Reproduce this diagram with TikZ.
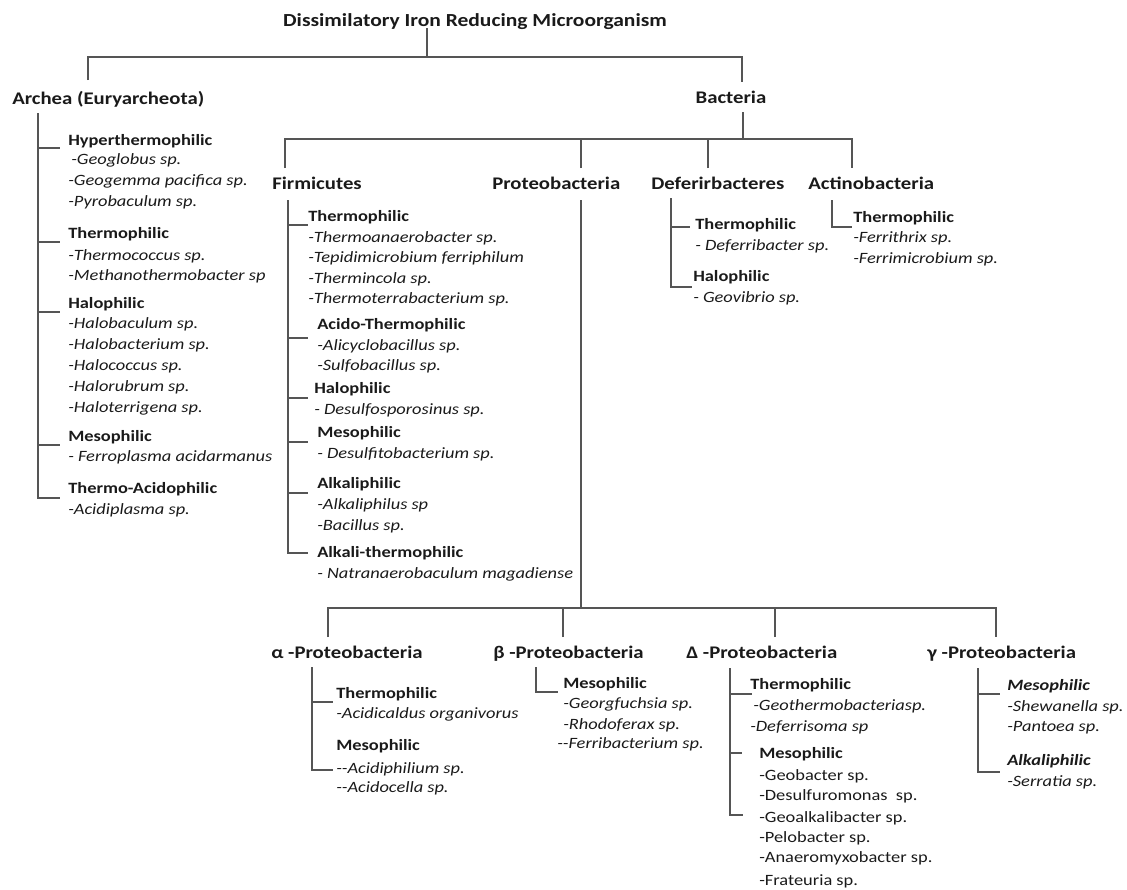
\documentclass[tikz,border=0pt]{standalone}
\usepackage{fontspec}
\setmainfont{Carlito}[FakeStretch=1.17]
\definecolor{txt}{HTML}{1A1A1A}
\definecolor{ln}{HTML}{555555}
\begin{document}
\begin{tikzpicture}[x=0.75pt,y=-0.75pt,
  hdr/.style={font=\fontsize{13.3}{15}\selectfont\bfseries,inner sep=0,anchor=base,text=txt},
  hdrw/.style={hdr,anchor=base west},
  sub/.style={font=\fontsize{11.8}{13}\selectfont\bfseries,inner sep=0,anchor=base west,text=txt},
  subi/.style={font=\fontsize{11.8}{13}\selectfont\bfseries\itshape,inner sep=0,anchor=base west,text=txt},
  spec/.style={font=\fontsize{11.8}{13}\selectfont\itshape,inner sep=0,anchor=base west,text=txt},
  specu/.style={font=\fontsize{11.8}{13}\selectfont,inner sep=0,anchor=base west,text=txt},
  tree/.style={draw=ln,line width=1.1pt}]
\useasboundingbox (0,0) rectangle (1127,889);

% ---------- headers ----------
\node[hdr,font=\fontsize{13.8}{15}\selectfont\bfseries] (root) at (475,26) {Dissimilatory Iron Reducing Microorganism};
\node[hdrw] (arch) at (12,104) {Archea (Euryarcheota)};
\node[hdr] (bact) at (731,103) {Bacteria};
\node[hdrw] (firm) at (272,189) {Firmicutes};
\node[hdrw] (prot) at (492,189) {Proteobacteria};
\node[hdrw] (defe) at (651,189) {Deferirbacteres};
\node[hdrw] (acti) at (808,189) {Actinobacteria};
\node[hdrw] (alph) at (271,658) {α -Proteobacteria};
\node[hdrw] (beta) at (493,658) {β -Proteobacteria};
\node[hdrw] (delt) at (686,658) {Δ -Proteobacteria};
\node[hdrw] (gamm) at (927,658) {γ -Proteobacteria};

% ---------- Archea ----------
\node[sub]  (a1) at (68,145) {Hyperthermophilic};
\node[spec] (a1a) at (71,164) {-Geoglobus sp.};
\node[spec] (a1b) at (68,185) {-Geogemma pacifica sp.};
\node[spec] (a1c) at (68,206) {-Pyrobaculum sp.};
\node[sub]  (a2) at (68,238) {Thermophilic};
\node[spec] (a2a) at (68,260) {-Thermococcus sp.};
\node[spec] (a2b) at (68,280) {-Methanothermobacter sp};
\node[sub]  (a3) at (68,308) {Halophilic};
\node[spec] (a3a) at (68,328) {-Halobaculum sp.};
\node[spec] (a3b) at (68,349) {-Halobacterium sp.};
\node[spec] (a3c) at (68,370) {-Halococcus sp.};
\node[spec] (a3d) at (68,391) {-Halorubrum sp.};
\node[spec] (a3e) at (68,412) {-Haloterrigena sp.};
\node[sub]  (a4) at (68,441) {Mesophilic};
\node[spec] (a4a) at (68,461) {- Ferroplasma acidarmanus};
\node[sub]  (a5) at (68,493) {Thermo-Acidophilic};
\node[spec] (a5a) at (68,514) {-Acidiplasma sp.};

% ---------- Firmicutes ----------
\node[sub]  (f1) at (308,221) {Thermophilic};
\node[spec] (f1a) at (308,242) {-Thermoanaerobacter sp.};
\node[spec] (f1b) at (308,262) {-Tepidimicrobium ferriphilum};
\node[spec] (f1c) at (308,283) {-Thermincola sp.};
\node[spec] (f1d) at (308,303) {-Thermoterrabacterium sp.};
\node[sub]  (f2) at (317,329) {Acido-Thermophilic};
\node[spec] (f2a) at (317,350) {-Alicyclobacillus sp.};
\node[spec] (f2b) at (317,370) {-Sulfobacillus sp.};
\node[sub]  (f3) at (314,393) {Halophilic};
\node[spec] (f3a) at (314,414) {- Desulfosporosinus sp.};
\node[sub]  (f4) at (317,437) {Mesophilic};
\node[spec] (f4a) at (317,458) {- Desulfitobacterium sp.};
\node[sub]  (f5) at (317,488) {Alkaliphilic};
\node[spec] (f5a) at (317,509) {-Alkaliphilus sp};
\node[spec] (f5b) at (317,530) {-Bacillus sp.};
\node[sub]  (f6) at (317,557) {Alkali-thermophilic};
\node[spec] (f6a) at (317,578) {- Natranaerobaculum magadiense};

% ---------- Deferirbacteres ----------
\node[sub]  (d1) at (695,229) {Thermophilic};
\node[spec] (d1a) at (695,250) {- Deferribacter sp.};
\node[sub]  (d2) at (693,281) {Halophilic};
\node[spec] (d2a) at (693,302) {- Geovibrio sp.};

% ---------- Actinobacteria ----------
\node[sub]  (c1) at (853,222) {Thermophilic};
\node[spec] (c1a) at (853,242) {-Ferrithrix sp.};
\node[spec] (c1b) at (853,263) {-Ferrimicrobium sp.};

% ---------- alpha ----------
\node[sub]  (al1) at (336,698) {Thermophilic};
\node[spec] (al1a) at (336,718) {-Acidicaldus organivorus};
\node[sub]  (al2) at (336,750) {Mesophilic};
\node[spec] (al2a) at (336,773) {-{}-Acidiphilium sp.};
\node[spec] (al2b) at (336,792) {-{}-Acidocella sp.};

% ---------- beta ----------
\node[sub]  (be1) at (563,688) {Mesophilic};
\node[spec] (be1a) at (563,708) {-Georgfuchsia sp.};
\node[spec] (be1b) at (563,729) {-Rhodoferax sp.};
\node[spec] (be1c) at (557,748) {-{}-Ferribacterium sp.};

% ---------- delta ----------
\node[sub]  (de1) at (750,689) {Thermophilic};
\node[spec] (de1a) at (753,710) {-Geothermobacteriasp.};
\node[spec] (de1b) at (750,731) {-Deferrisoma sp};
\node[sub]  (de2) at (759,758) {Mesophilic};
\node[specu] (de2a) at (759,780) {-Geobacter sp.};
\node[specu] (de2b) at (759,800) {-Desulfuromonas\ \ sp.};
\node[specu] (de2c) at (759,822) {-Geoalkalibacter sp.};
\node[specu] (de2d) at (759,842) {-Pelobacter sp.};
\node[specu] (de2e) at (759,862) {-Anaeromyxobacter sp.};
\node[specu] (de2f) at (759,885) {-Frateuria sp.};

% ---------- gamma ----------
\node[subi] (ga1) at (1007,690) {Mesophilic};
\node[spec] (ga1a) at (1007,711) {-Shewanella sp.};
\node[spec] (ga1b) at (1007,731) {-Pantoea sp.};
\node[subi] (ga2) at (1007,765) {Alkaliphilic};
\node[spec] (ga2a) at (1007,786) {-Serratia sp.};

% ---------- tree lines ----------
% root
\coordinate (rootB) at (427,28);
\coordinate (rootJ) at (427,57);
\coordinate (archT) at (88,80);
\coordinate (bactT) at (742,82);
\draw[tree] (rootB) -- (rootJ);
\draw[tree] (archT) |- (rootJ) -| (bactT);
% bacteria
\coordinate (bactB) at (743,112);
\coordinate (bactJ) at (743,139);
\coordinate (firmT) at (285,168);
\coordinate (protT) at (581,168);
\coordinate (defeT) at (708,168);
\coordinate (actiT) at (852,168);
\draw[tree] (bactB) -- (bactJ);
\draw[tree] (firmT) |- (bactJ) -| (actiT);
\draw[tree] (protT) -- (protT |- bactJ);
\draw[tree] (defeT) -- (defeT |- bactJ);
% archea branch
\coordinate (archB) at (38,113);
\coordinate (archE) at (60,498);
\draw[tree] (archB) |- (archE);
\foreach \yy in {148,242,312,445} \draw[tree] (38,\yy) -- (60,\yy);
% firmicutes branch
\coordinate (firmB) at (288,200);
\coordinate (firmE) at (308,553);
\draw[tree] (firmB) |- (firmE);
\foreach \yy in {225,338,398,442,493} \draw[tree] (288,\yy) -- (308,\yy);
% deferirbacteres branch
\coordinate (defeB) at (671,198);
\coordinate (defeE) at (692,287);
\draw[tree] (defeB) |- (defeE);
\draw[tree] (671,227) -- (690,227);
% actinobacteria branch
\coordinate (actiB) at (832,200);
\coordinate (actiE) at (852,227);
\draw[tree] (actiB) |- (actiE);
% proteobacteria
\coordinate (protB) at (581,200);
\coordinate (protJ) at (581,608);
\coordinate (alphT) at (328,637);
\coordinate (betaT) at (563,637);
\coordinate (deltT) at (775,637);
\coordinate (gammT) at (996,637);
\draw[tree] (protB) -- (protJ);
\draw[tree] (alphT) |- (protJ) -| (gammT);
\draw[tree] (betaT) -- (betaT |- protJ);
\draw[tree] (deltT) -- (deltT |- protJ);
% alpha branch
\coordinate (alphB) at (312,667);
\coordinate (alphE) at (333,770);
\draw[tree] (alphB) |- (alphE);
\draw[tree] (312,702) -- (333,702);
% beta branch
\coordinate (betaB) at (536,667);
\coordinate (betaE) at (558,692);
\draw[tree] (betaB) |- (betaE);
% delta branch
\coordinate (deltB) at (730,668);
\coordinate (deltE) at (743,815);
\draw[tree] (deltB) |- (deltE);
\draw[tree] (730,694) -- (752,694);
\draw[tree] (730,753) -- (742,753);
% gamma branch
\coordinate (gammB) at (978,668);
\coordinate (gammE) at (1000,772);
\draw[tree] (gammB) |- (gammE);
\draw[tree] (978,694) -- (1000,694);
\end{tikzpicture}
\end{document}
